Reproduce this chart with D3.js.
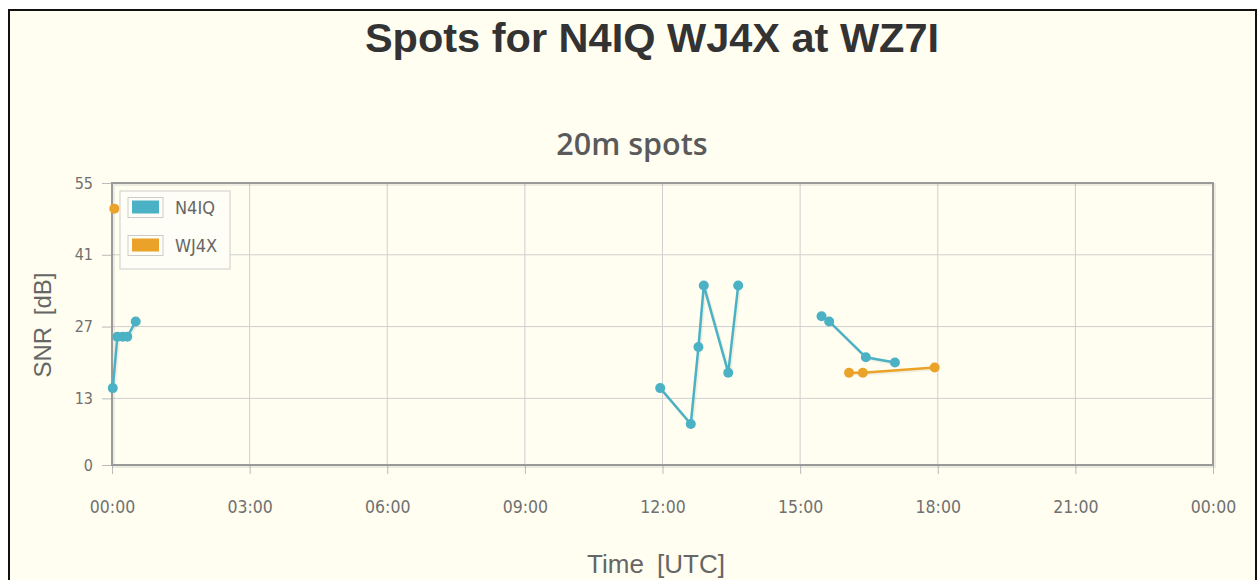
<!DOCTYPE html>
<html>
<head>
<meta charset="utf-8">
<script src="https://cdn.jsdelivr.net/npm/d3@7"></script>
<style>
  html, body { margin: 0; padding: 0; background: #fff; }
  svg { display: block; }
  .tick text { font-family: "DejaVu Sans Condensed", "DejaVu Sans", sans-serif; fill: #707070; }
</style>
</head>
<body>
<svg id="chart" width="1259" height="580"></svg>
<script>
// spot times (UTC) and SNR, null marks a break in the line
const n4iqTimes = ["00:01", "00:07", "00:14", "00:20", "00:31", null,
  "11:57", "12:37", "12:47", "12:54", "13:26", "13:39", null,
  "15:28", "15:38", "16:26", "17:04"];
const n4iqSnr = [15, 25, 25, 25, 28, null,
  15, 8, 23, 35, 18, 35, null,
  29, 28, 21, 20];
const wj4xTimes = ["00:03", null, "16:04", "16:22", "17:56"];
const wj4xSnr = [50, null, 18, 18, 19];
const yTicks = [0, 13, 27, 41, 55];
const seriesNames = ["N4IQ", "WJ4X"];
const seriesColors = ["#4bb2c5", "#eaa228"];

const W = 1259, H = 580;
const margin = { top: 183, right: 46, bottom: 115, left: 112 };
const svg = d3.select("#chart");

// page frame
svg.append("rect").attr("x", 9).attr("y", 10).attr("width", W - 12).attr("height", H)
  .attr("fill", "#fffef1").attr("stroke", "#111").attr("stroke-width", 2);

svg.append("text").attr("x", 652).attr("y", 52).attr("text-anchor", "middle")
  .attr("font-family", "Liberation Sans, Arial, sans-serif").attr("font-weight", "bold")
  .attr("font-size", 41.5).attr("fill", "#333").text("Spots for N4IQ WJ4X at WZ7I");

svg.append("text").attr("x", 632).attr("y", 155).attr("text-anchor", "middle")
  .attr("font-family", "Open Sans, sans-serif").attr("font-weight", 600)
  .attr("font-size", 30.5).attr("fill", "#5a5a5a").text("20m spots");

const day = t => {
  const [h, m] = t.split(":").map(Number);
  return new Date(Date.UTC(2020, 0, 1, h, m));
};
const x = d3.scaleUtc()
  .domain([new Date(Date.UTC(2020, 0, 1)), new Date(Date.UTC(2020, 0, 2))])
  .range([margin.left, W - margin.right]);
const y = d3.scaleLinear().domain([0, 55]).range([H - margin.bottom, margin.top]);
const x0 = x.range()[0], x1 = x.range()[1], y0 = y.range()[0], y1 = y.range()[1];

// grid
const xt = x.ticks(d3.utcHour.every(3));
svg.append("g").selectAll("line").data(xt.slice(1, -1)).join("line")
  .attr("x1", d => x(d)).attr("x2", d => x(d)).attr("y1", y1).attr("y2", y0)
  .attr("stroke", "#cfcfcf").attr("stroke-width", 1);
svg.append("g").selectAll("line").data(yTicks.slice(1, -1)).join("line")
  .attr("x1", x0).attr("x2", x1).attr("y1", d => y(d)).attr("y2", d => y(d))
  .attr("stroke", "#cfcfcf").attr("stroke-width", 1);

// axes
const xAxis = svg.append("g").attr("transform", `translate(0,${y0})`)
  .call(d3.axisBottom(x).tickValues(xt).tickFormat(d3.utcFormat("%H:%M")).tickSize(9).tickPadding(27));
xAxis.select(".domain").remove();
xAxis.selectAll(".tick line").attr("stroke", "#bbb");
xAxis.selectAll(".tick text").attr("font-size", 17.5);

const yAxis = svg.append("g").attr("transform", `translate(${x0},0)`)
  .call(d3.axisLeft(y).tickValues(yTicks).tickSize(10).tickPadding(9));
yAxis.select(".domain").remove();
yAxis.selectAll(".tick line").attr("stroke", "#bbb");
yAxis.selectAll(".tick text").attr("font-size", 16);

// plot border
svg.append("rect").attr("x", x0 + 1.5).attr("y", y1 + 1.5).attr("width", x1 - x0).attr("height", y0 - y1)
  .attr("fill", "none").attr("stroke", "rgba(0,0,0,0.07)").attr("stroke-width", 3);
svg.append("rect").attr("x", x0).attr("y", y1).attr("width", x1 - x0).attr("height", y0 - y1)
  .attr("fill", "none").attr("stroke", "#9a9a9a").attr("stroke-width", 2);

// series
const toPts = (ts, vs) => ts.map((t, i) => t == null ? null : { d: day(t), v: vs[i] });
const series = [toPts(n4iqTimes, n4iqSnr), toPts(wj4xTimes, wj4xSnr)];
const line = d3.line().defined(p => p != null).x(p => x(p.d)).y(p => y(p.v));

series.forEach((pts, i) => {
  const g = svg.append("g");
  g.append("path").datum(pts).attr("fill", "none").attr("stroke", "rgba(0,0,0,0.06)")
    .attr("stroke-width", 3).attr("transform", "translate(1.5,1.5)").attr("d", line);
  g.append("path").datum(pts).attr("fill", "none").attr("stroke", seriesColors[i])
    .attr("stroke-width", 2.5).attr("d", line);
  g.selectAll("circle").data(pts.filter(p => p != null)).join("circle")
    .attr("cx", p => x(p.d)).attr("cy", p => y(p.v)).attr("r", 5)
    .attr("fill", seriesColors[i]);
});

// legend
const lg = svg.append("g").attr("transform", "translate(120,191)");
lg.append("rect").attr("width", 110).attr("height", 78)
  .attr("fill", "#fffef6").attr("stroke", "#cccccc");
seriesNames.forEach((n, i) => {
  const r = lg.append("g").attr("transform", `translate(0,${i * 38})`);
  r.append("rect").attr("x", 8).attr("y", 6.5).attr("width", 35).attr("height", 20)
    .attr("fill", "none").attr("stroke", "#cccccc");
  r.append("rect").attr("x", 12).attr("y", 9.5).attr("width", 27).attr("height", 13)
    .attr("fill", seriesColors[i]);
  r.append("text").attr("x", 55).attr("y", 17).attr("dy", "0.35em")
    .attr("font-family", "DejaVu Sans Condensed, DejaVu Sans, sans-serif").attr("font-size", 18)
    .attr("fill", "#666").text(n);
});

// axis titles
svg.append("text").attr("x", 656).attr("y", 573).attr("text-anchor", "middle")
  .attr("font-family", "Liberation Sans, Arial, sans-serif").attr("font-size", 26)
  .attr("fill", "#666").attr("word-spacing", 6).text("Time [UTC]");
svg.append("text").attr("transform", "translate(51,325) rotate(-90)").attr("text-anchor", "middle")
  .attr("font-family", "Liberation Sans, Arial, sans-serif").attr("font-size", 24)
  .attr("fill", "#666").attr("word-spacing", 5).text("SNR [dB]");
</script>
</body>
</html>
